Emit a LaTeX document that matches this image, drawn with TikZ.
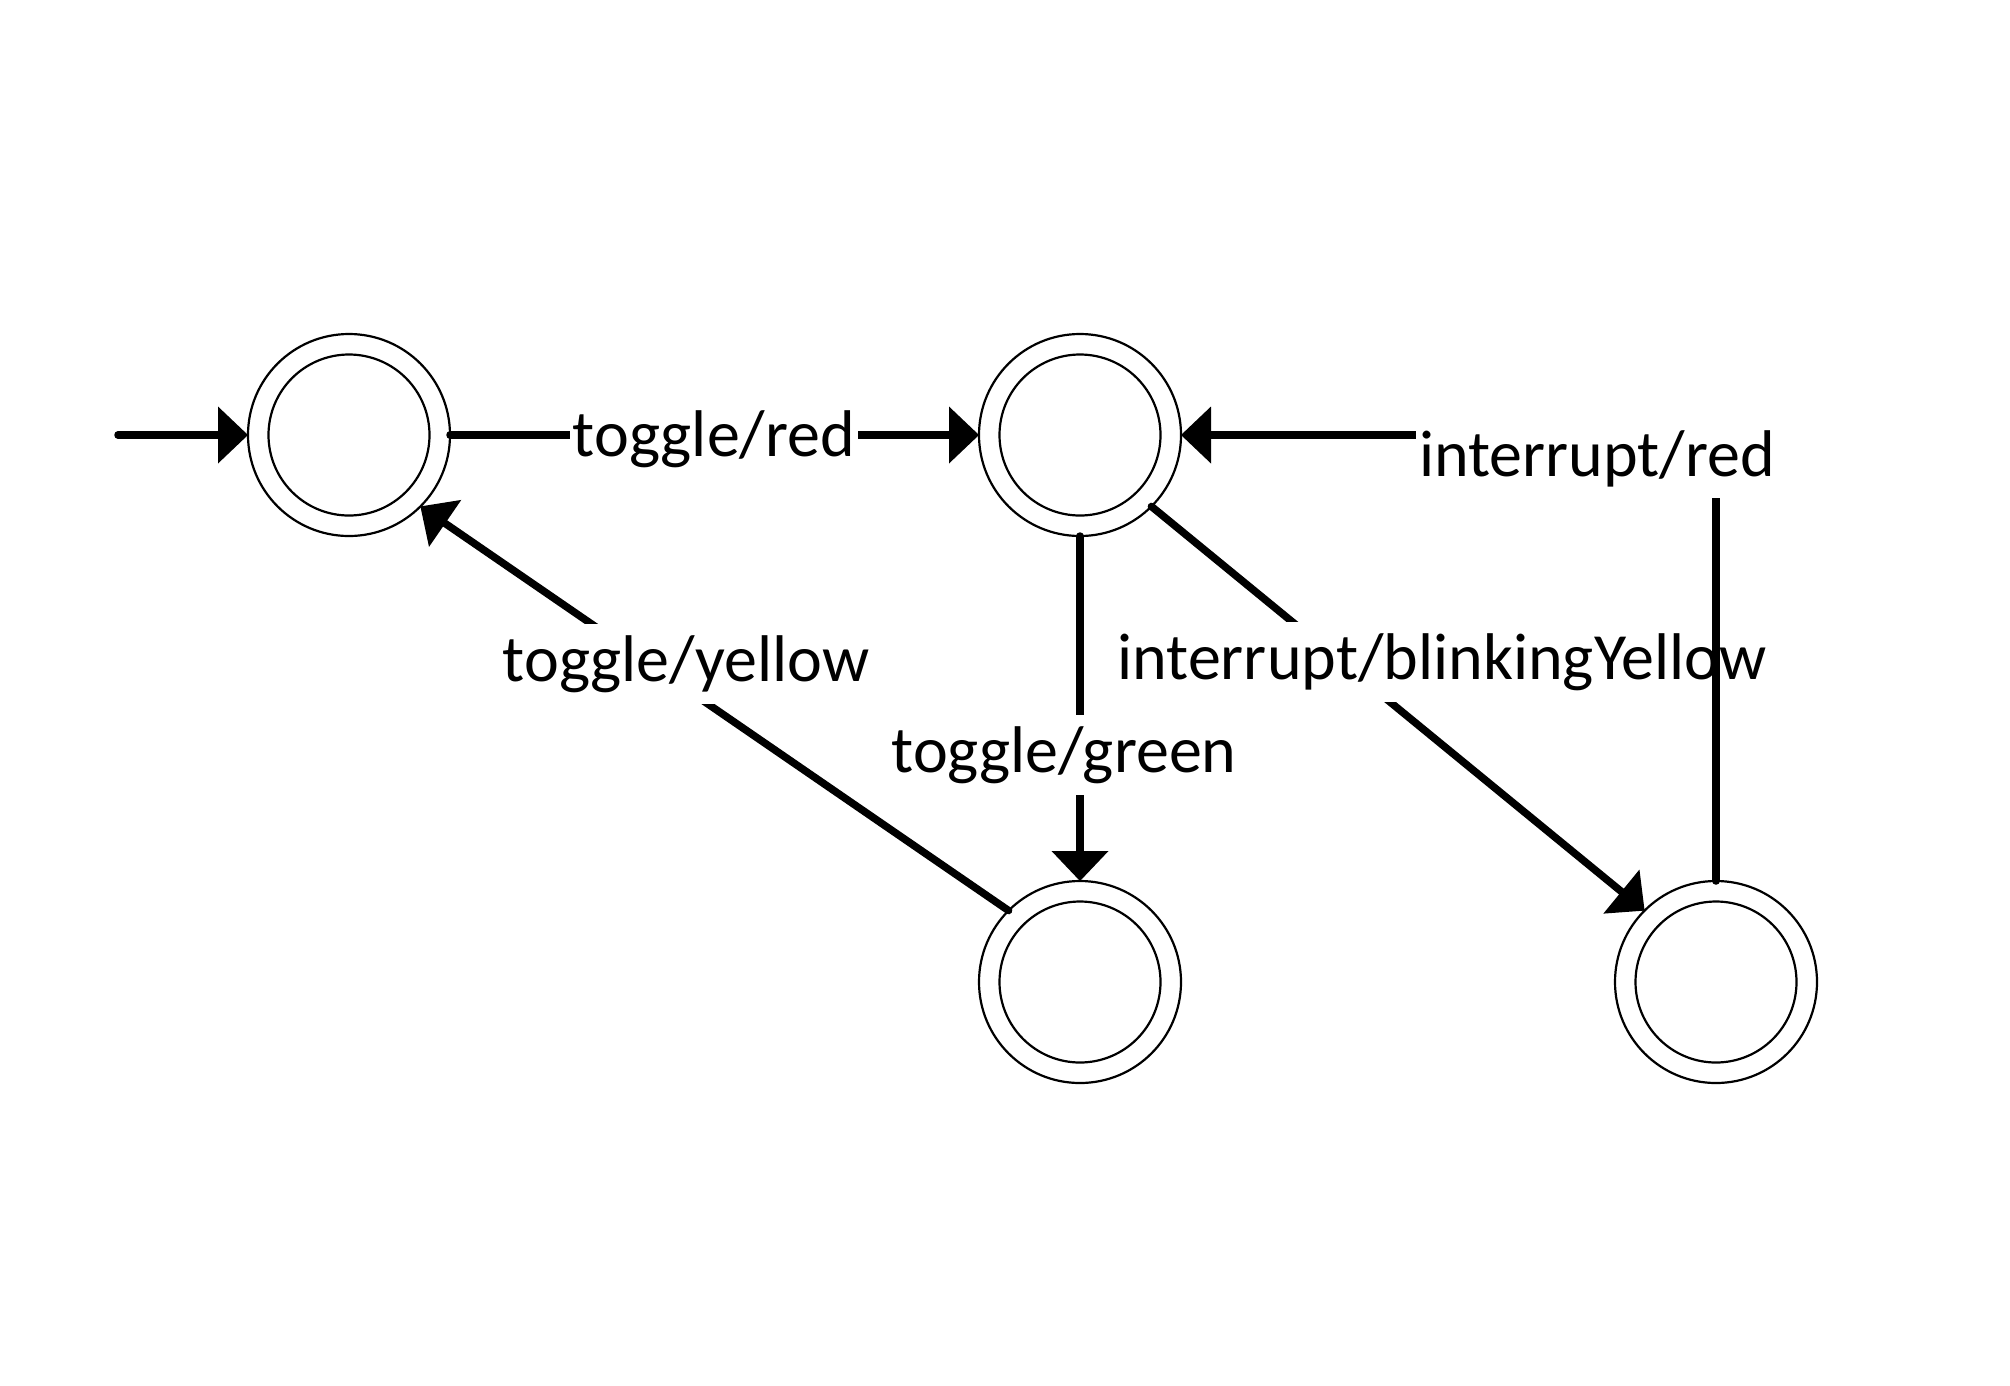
\documentclass[tikz,border=0pt]{standalone}
\usepackage{fontspec}
\setmainfont{Carlito}
\usetikzlibrary{arrows.meta}
\begin{document}
\begin{tikzpicture}[x=1pt,y=-1pt,
  state/.style={circle,draw,line width=2.2pt,minimum size=202pt,inner sep=0pt,outer sep=0pt},
  innerring/.style={line width=2.2pt},
  edge/.style={line width=7.5pt,line cap=round,-{Triangle[length=30pt,width=57pt,line width=0pt]}},
  lbl/.style={fill=white,inner xsep=3pt,inner ysep=11pt,font=\fontsize{66}{79}\selectfont}]
\path[fill=white,use as bounding box] (0,0) rectangle (2010,1385);
% states
\node[state] (c1) at (349,435) {};
\node[state] (c2) at (1080,435) {};
\node[state] (c3) at (1080,982) {};
\node[state] (c4) at (1716,982) {};
\foreach \n in {c1,c2,c3,c4} \draw[innerring] (\n.center) circle[radius=80.5pt];
% initial arrow
\coordinate (s) at (118,435);
\draw[edge] (s) -- (c1.west);
% toggle/red
\draw[edge] (c1.east) -- (c2.west);
\node[lbl] (l1) at (714,439) {toggle/red};
% toggle/yellow
\draw[edge] (c3.135) -- (c1.-45);
\node[lbl] (l2) at (686,664) {toggle/yellow};
% toggle/green
\draw[edge] (c2.south) -- (c3.north);
\node[lbl] (l3) at (1064,755) {toggle/green};
% interrupt/blinkingYellow
\draw[edge] (c2.-45) -- (c4.135);
\node[lbl] (l4) at (1442,662) {interrupt/blinkingYellow};
% interrupt/red
\draw[edge] (c4.north) |- (c2.east);
\node[lbl] (l5) at (1597,459) {interrupt/red};
\end{tikzpicture}
\end{document}
